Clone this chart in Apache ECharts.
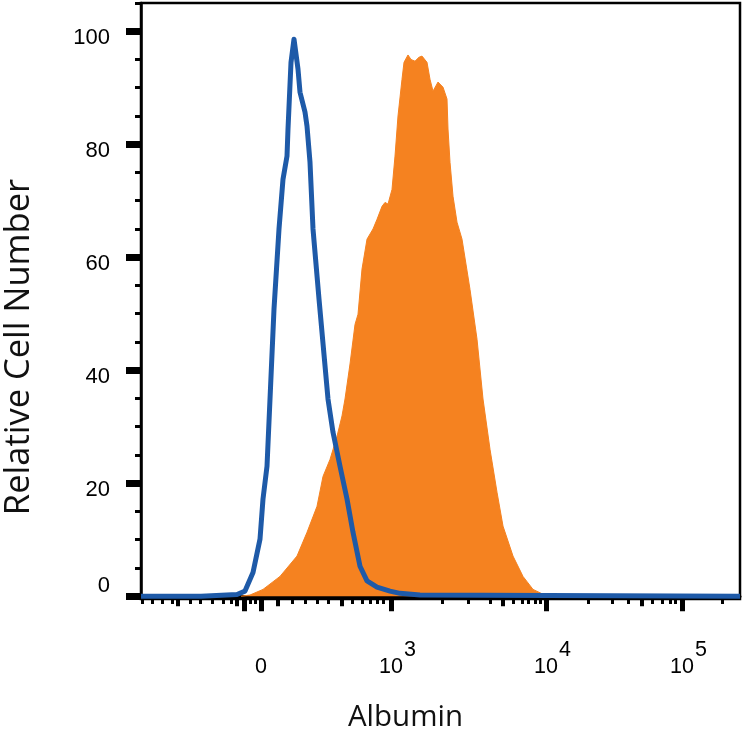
<!DOCTYPE html>
<html>
<head>
<meta charset="utf-8">
<script src="https://cdn.jsdelivr.net/npm/echarts@6/dist/echarts.min.js"></script>
<style>
  html, body { margin: 0; padding: 0; background: #fff; }
  #chart { width: 743px; height: 743px; }
</style>
</head>
<body>
<div id="chart"></div>
<script>
// display channel (biexponential scale, 0..599)
const isotypeChannel = [0, 60, 96, 104, 112, 119, 122, 126, 129, 133, 138, 142, 146, 147, 150, 153, 157, 159, 164, 166, 169, 172, 178, 187, 192, 199, 206, 212, 219, 226, 236, 249, 259, 279, 599];
const isotypeCount = [0, 0, 0.3, 0.9, 4.2, 10.1, 17.2, 23, 34.9, 50.8, 65, 73.8, 77.9, 82.7, 94.5, 98.6, 93.3, 89.2, 85.7, 83.2, 76.8, 65, 52.6, 34.9, 29, 23, 17.2, 11.3, 5.3, 2.7, 1.6, 0.9, 0.5, 0.2, 0];

const albuminChannel = [100, 109, 122, 139, 156, 166, 176, 182, 189, 196, 201, 204, 209, 214, 217, 221, 226, 232, 236, 241, 244, 247, 251, 254, 257, 261, 263, 267, 270, 274, 278, 281, 286, 289, 292, 297, 302, 306, 307, 309, 312, 316, 321, 329, 336, 342, 349, 356, 362, 372, 382, 392, 402, 409];
const albuminCount = [0, 0.2, 1.2, 3.5, 7.1, 11.3, 15.9, 21.2, 24.2, 28.3, 31.9, 34.9, 41.1, 48.1, 49.9, 57.9, 63.2, 65, 66.7, 69, 69.7, 69.4, 72, 77.9, 85, 91.5, 94.5, 95.8, 95, 94.7, 95.4, 95.6, 94.5, 91.5, 89.4, 91, 90.1, 88, 82.7, 76.8, 70.8, 66.2, 63.2, 54.3, 45.5, 34.9, 26, 18.4, 12.4, 7.1, 3.5, 1.2, 0.35, 0];

const xLabelChannel = [120, 250, 405, 541];
const xLabelExp = [null, 3, 4, 5];
const xMajorTicks = [103, 120, 250, 405, 541];
const xMediumTicks = [37, 96, 137, 201, 362, 501];
const xMinorTicks = [1, 11, 21, 31, 49, 59, 71, 82, 90, 109, 114, 151, 164, 176, 187, 211, 221, 229, 236, 242, 301, 327, 349, 372, 381, 387, 394, 399, 447, 471, 487, 511, 521, 529, 534, 581];

const yMajorTicks = [0, 20, 40, 60, 80, 100];
const yMinorTicks = [5, 10, 15, 25, 30, 35, 45, 50, 55, 65, 70, 75, 85, 90, 95, 105];

const zip = (xs, ys) => xs.map((x, i) => [x, ys[i]]);

const X_MIN = 0, X_MAX = 599, Y_MIN = -0.5, Y_MAX = 105;

const tickAxisX = (ticks, length, width) => ({
  type: 'value', min: X_MIN, max: X_MAX, position: 'bottom',
  axisLine: { show: false },
  splitLine: { show: false },
  axisLabel: { show: false },
  axisTick: { show: true, customValues: ticks, length, lineStyle: { color: '#000', width } },
});

const tickAxisY = (ticks, length, width) => ({
  type: 'value', min: Y_MIN, max: Y_MAX, position: 'left',
  axisLine: { show: false },
  splitLine: { show: false },
  axisLabel: { show: false },
  axisTick: { show: true, customValues: ticks, length, lineStyle: { color: '#000', width } },
});

const labelFont = { fontFamily: 'Liberation Sans', fontSize: 21.5, color: '#000', lineHeight: 22, verticalAlign: 'bottom' };

const chart = echarts.init(document.getElementById('chart'));
chart.setOption({
  animation: false,
  backgroundColor: '#fff',
  grid: {
    left: 141, right: 3, top: 3, bottom: 144,
    outerBoundsMode: 'none',
    containLabel: false,
    show: true, borderColor: '#000', borderWidth: 2.5,
  },
  xAxis: [
    {
      type: 'value', min: X_MIN, max: X_MAX, position: 'bottom',
      name: 'Albumin',
      nameLocation: 'middle',
      nameGap: 104,
      nameTextStyle: { fontFamily: 'Open Sans', fontSize: 29.5, color: '#111', padding: [0, 70, 0, 0] },
      axisLine: { show: true, lineStyle: { color: '#000', width: 3 } },
      splitLine: { show: false },
      axisTick: { show: true, customValues: xMajorTicks, length: 15, lineStyle: { color: '#000', width: 5 } },
      axisLabel: {
        customValues: xLabelChannel,
        margin: 57,
        formatter: (v) => {
          const e = xLabelExp[xLabelChannel.indexOf(v)];
          if (e == null) return '{sp| }{b|0}{ghost|3}';
          return '{sp| }{b|10}{sup|' + e + '}';
        },
        rich: {
          b: { ...labelFont },
          sup: { ...labelFont, padding: [0, 0, 17, 1] },
          ghost: { ...labelFont, color: 'rgba(0,0,0,0)', padding: [0, 0, 17, 1] },
          sp: { ...labelFont, width: 13 },
        },
      },
    },
    tickAxisX(xMediumTicks, 10, 4),
    tickAxisX(xMinorTicks, 5, 3),
  ],
  yAxis: [
    {
      type: 'value', min: Y_MIN, max: Y_MAX, position: 'left',
      name: 'Relative Cell Number',
      nameLocation: 'middle',
      nameGap: 104,
      nameRotate: 90,
      nameTextStyle: { fontFamily: 'Open Sans', fontSize: 34.5, color: '#111', padding: [0, 92, 0, 0] },
      axisLine: { show: true, lineStyle: { color: '#000', width: 2.5 } },
      splitLine: { show: false },
      axisTick: { show: true, customValues: yMajorTicks, length: 15, lineStyle: { color: '#000', width: 7 } },
      axisLabel: {
        customValues: yMajorTicks,
        margin: 31,
        formatter: (v) => (v === 0 ? '{z|0}' : '{n|' + v + '}'),
        rich: {
          n: { fontFamily: 'Liberation Sans', fontSize: 22, color: '#000', padding: [14, 0, 0, 0] },
          z: { fontFamily: 'Liberation Sans', fontSize: 22, color: '#000', padding: [0, 0, 20, 0] },
        },
      },
    },
    tickAxisY(yMinorTicks, 6, 3),
  ],
  series: [
    {
      name: 'Albumin',
      type: 'line',
      data: zip(albuminChannel, albuminCount),
      showSymbol: false,
      lineStyle: { color: '#f58220', width: 1 },
      areaStyle: { color: '#f58220', opacity: 1 },
      z: 2,
    },
    {
      name: 'Isotype',
      type: 'line',
      data: zip(isotypeChannel, isotypeCount),
      showSymbol: false,
      lineStyle: { color: '#1e5aa8', width: 5, join: 'round' },
      z: 3,
    },
  ],
});
</script>
</body>
</html>
